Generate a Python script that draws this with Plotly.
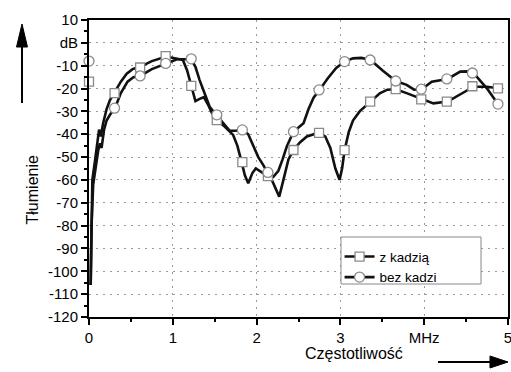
import plotly.graph_objects as go

# ---- data ----
series_names = ["z kadzią", "bez kadzi"]

# dense curve points, "z kadzią"
x_z = [0.02, 0.03, 0.04, 0.07, 0.10, 0.12, 0.14, 0.17, 0.21, 0.25, 0.30, 0.38, 0.45, 0.52, 0.61,
       0.75, 0.92, 1.05, 1.12, 1.17, 1.22, 1.27, 1.32, 1.37, 1.42, 1.47, 1.52, 1.60, 1.72, 1.77,
       1.82, 1.86, 1.90, 1.95, 1.99, 2.05, 2.12, 2.17, 2.22, 2.27, 2.32, 2.38, 2.44, 2.52, 2.60,
       2.75, 2.82, 2.88, 2.94, 2.99, 3.02, 3.05, 3.10, 3.15, 3.23, 3.36, 3.47, 3.56, 3.66, 3.79,
       3.97, 4.11, 4.28, 4.43, 4.59, 4.75, 4.88]
y_z = [-106, -75, -60, -52, -44, -38, -41, -35, -29, -25, -22, -17, -13.5, -11.5, -10.5,
       -8, -6, -6.8, -7.5, -12, -18.8, -25.5, -24.5, -23.8, -27, -31, -33.8, -36, -40.3, -45,
       -52, -58, -61.5, -57, -55, -56.5, -58, -59, -63, -67.3, -60, -51, -46.9, -43.5, -41,
       -39.2, -41, -46, -55, -60, -55, -47, -39, -34, -30, -25.7, -22.1, -20.5, -20.3, -22,
       -24.7, -26.5, -25.7, -22.5, -19.2, -19.2, -19.9]

# dense curve points, "bez kadzi"
x_b = [0.02, 0.03, 0.05, 0.08, 0.11, 0.13, 0.15, 0.18, 0.21, 0.25, 0.31, 0.38, 0.46, 0.53, 0.61,
       0.75, 0.92, 1.05, 1.22, 1.27, 1.32, 1.38, 1.44, 1.52, 1.60, 1.68, 1.75, 1.83, 1.90, 1.96,
       2.02, 2.08, 2.13, 2.20, 2.26, 2.31, 2.36, 2.44, 2.50, 2.56, 2.62, 2.68, 2.75, 2.85, 2.95,
       3.05, 3.15, 3.25, 3.36, 3.50, 3.66, 3.79, 3.88, 3.97, 4.09, 4.28, 4.43, 4.52, 4.59, 4.75,
       4.88]
y_b = [-106, -80, -62, -54, -47, -44, -46, -38, -34, -31.5, -28.6, -22, -17, -15, -14.5,
       -11.5, -9, -7.2, -7.2, -10.5, -16.3, -22, -28, -31.6, -35, -38.5, -38.5, -38.1, -40, -45,
       -50, -53.5, -56.7, -58.6, -56, -51, -45.4, -38.9, -37, -35.2, -29, -24, -20.6, -15.5, -11,
       -8.2, -6.8, -6.6, -7.5, -12, -16.7, -18.4, -20.5, -20.3, -17, -15.8, -12.6, -12.5, -13.3, -20,
       -26.8]

# marker points
x_mark = [0, 0.305, 0.61, 0.915, 1.22, 1.525, 1.83, 2.135, 2.44, 2.745, 3.05, 3.355, 3.66,
          3.965, 4.27, 4.575, 4.88]
y_mark_z = [-17, -22, -10.8, -5.8, -18.8, -33.8, -52.2, -58.3, -46.9, -39.4, -47, -25.7, -20.3,
            -24.7, -25.7, -19.0, -19.9]
y_mark_b = [-8, -28.6, -14.5, -9, -7.0, -31.5, -38.1, -56.7, -38.9, -20.6, -8.2, -7.5, -16.7,
            -20.3, -15.8, -13.2, -26.8]

y_tickvals = [10, 0, -10, -20, -30, -40, -50, -60, -70, -80, -90, -100, -110, -120]
y_ticktext = ["10", "dB", "-10", "-20", "-30", "-40", "-50", "-60", "-70", "-80", "-90",
              "-100", "-110", "-120"]
x_tickvals = [0, 1, 2, 3, 4, 5]
x_ticktext = ["0", "1", "2", "3", "MHz", "5"]

FONT = "Arial, Liberation Sans, sans-serif"
LINE_COLOR = "#111111"
MK_EDGE = "#8a8a8a"

fig = go.Figure()

fig.add_trace(go.Scatter(x=x_z, y=y_z, mode="lines", line=dict(color=LINE_COLOR, width=2.6),
                         showlegend=False, hoverinfo="skip"))
fig.add_trace(go.Scatter(x=x_b, y=y_b, mode="lines", line=dict(color=LINE_COLOR, width=2.6),
                         showlegend=False, hoverinfo="skip"))
fig.add_trace(go.Scatter(x=x_mark, y=y_mark_z, mode="markers",
                         marker=dict(symbol="square", size=9, color="white",
                                     line=dict(color=MK_EDGE, width=1.3)),
                         showlegend=False, cliponaxis=False))
fig.add_trace(go.Scatter(x=x_mark, y=y_mark_b, mode="markers",
                         marker=dict(symbol="circle", size=10, color="white",
                                     line=dict(color=MK_EDGE, width=1.3)),
                         showlegend=False, cliponaxis=False))

# legend entries
fig.add_trace(go.Scatter(x=[None], y=[None], mode="lines+markers", name=series_names[0],
                         line=dict(color=LINE_COLOR, width=2.6),
                         marker=dict(symbol="square", size=9, color="white",
                                     line=dict(color=MK_EDGE, width=1.3))))
fig.add_trace(go.Scatter(x=[None], y=[None], mode="lines+markers", name=series_names[1],
                         line=dict(color=LINE_COLOR, width=2.6),
                         marker=dict(symbol="circle", size=10, color="white",
                                     line=dict(color=MK_EDGE, width=1.3))))

axis_common = dict(
    showline=True, linecolor="black", linewidth=2, mirror=True,
    ticks="outside", ticklen=6, tickwidth=1.5, tickcolor="black",
    showgrid=True, gridcolor="#9a9a9a", gridwidth=1.4, griddash="2px,5px",
    zeroline=False, automargin=False, ticklabeloverflow="allow",
    tickfont=dict(family=FONT, size=15, color="black"),
)

fig.update_xaxes(range=[0, 5], tickvals=x_tickvals, ticktext=x_ticktext,
                 minor=dict(dtick=0.5, tick0=0, ticks="outside", ticklen=3, tickcolor="black",
                            showgrid=False),
                 **axis_common)
fig.update_yaxes(range=[-120, 10], tickvals=y_tickvals, ticktext=y_ticktext,
                 minor=dict(dtick=5, tick0=0, ticks="outside", ticklen=3, tickcolor="black",
                            showgrid=False),
                 **axis_common)

# axis titles
fig.add_annotation(text="Tłumienie", xref="paper", yref="paper", x=-0.16, y=0.4276,
                   textangle=-90, showarrow=False,
                   font=dict(family=FONT, size=16, color="black"))
fig.add_annotation(text="Częstotliwość", xref="paper", yref="paper", x=0.632, y=-0.158,
                   showarrow=False, font=dict(family=FONT, size=16, color="black"))

# arrows (vertical on the left, horizontal at the bottom)
fig.add_shape(type="line", xref="paper", yref="paper", x0=-0.1599, x1=-0.1599,
              y0=0.7205, y1=0.92, line=dict(color="black", width=2))
fig.add_shape(type="path", xref="paper", yref="paper",
              path="M -0.1730 0.909 L -0.1468 0.909 L -0.1599 0.9865 Z",
              fillcolor="black", line=dict(color="black", width=1))
fig.add_shape(type="line", xref="paper", yref="paper", x0=0.833, x1=0.962,
              y0=-0.1515, y1=-0.1515, line=dict(color="black", width=2))
fig.add_shape(type="path", xref="paper", yref="paper",
              path="M 0.957 -0.1313 L 0.957 -0.1717 L 1.0 -0.1515 Z",
              fillcolor="black", line=dict(color="black", width=1))

# legend frame
fig.add_shape(type="rect", xref="paper", yref="paper", x0=0.6014, x1=0.9356,
              y0=0.1111, y1=0.2694, fillcolor="white", layer="above",
              line=dict(color="#888888", width=1))

fig.update_layout(
    width=511, height=372,
    margin=dict(l=89, r=3, t=20, b=55, autoexpand=False),
    plot_bgcolor="white", paper_bgcolor="white",
    legend=dict(x=0.598, y=0.255, xanchor="left", yanchor="top",
                bgcolor="rgba(0,0,0,0)", borderwidth=0,
                font=dict(family=FONT, size=13.5, color="black"),
                tracegroupgap=0, itemwidth=30),
    font=dict(family=FONT),
)

fig.write_html("out.html", config={"displayModeBar": False},
               post_script="document.body.style.margin='0';")
